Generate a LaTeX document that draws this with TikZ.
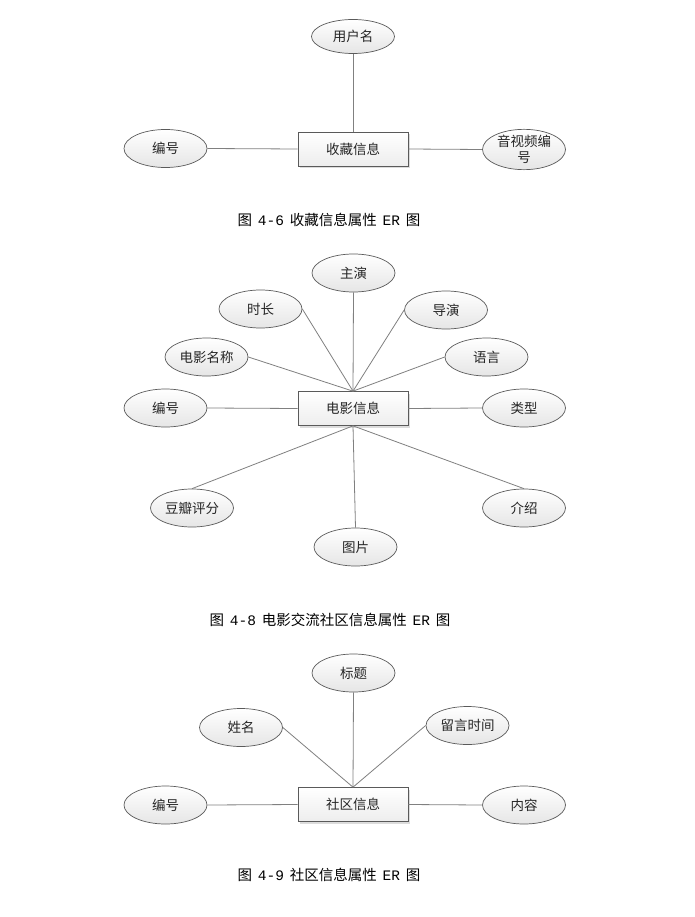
\documentclass[tikz,border=0pt]{standalone}
\usepackage{fontspec}
\newfontfamily\cjk{Noto Sans CJK SC}
\newfontfamily\capmono{Liberation Mono}
\usetikzlibrary{shapes.geometric,shadows}

\definecolor{linegray}{HTML}{808080}
\definecolor{edgegray}{HTML}{5A5A5A}
\definecolor{txtgray}{HTML}{262626}

\newcommand{\capnum}[1]{\hspace{0.4em}{\capmono #1}\hspace{0.4em}}

\tikzset{
  attr/.style={ellipse, draw=edgegray, line width=0.7pt, top color=white, bottom color=gray!20, minimum width=83pt, minimum height=38pt, inner sep=0pt, align=center, text=txtgray, font=\cjk\fontsize{13.5}{16}\selectfont},
  entity/.style={rectangle, draw=edgegray, line width=0.7pt, top color=white, bottom color=gray!14, minimum width=110pt, minimum height=34pt, inner sep=0pt, text=txtgray, font=\cjk\fontsize{13.5}{16}\selectfont, drop shadow={shadow xshift=2pt, shadow yshift=-2pt, fill=gray!45, opacity=.6}},
  link/.style={draw=linegray, line width=0.8pt},
  caption/.style={text=black, font=\cjk\fontsize{14.5}{16}\selectfont}
}

\begin{document}
\begin{tikzpicture}[x=1pt, y=-1pt]
\useasboundingbox[fill=white] (0,0) rectangle (695,917);

% 4-6
\node[attr, minimum height=34pt] (fuser) at (353,36.5) {用户名};
\node[entity] (fav) at (353,149) {收藏信息};
\node[attr] (fid) at (165.5,148.5) {编号};
\node[attr] (fmedia) at (524,149.5) {音视频编\\号};
\node[caption] (cap1) at (329,219.5) {图\capnum{4-6}收藏信息属性\capnum{ER}图};

\draw[link] (fuser.south) -- (fav.north);
\draw[link] (fid.east) -- (fav.west);
\draw[link] (fmedia.west) -- (fav.east);

% 4-8
\node[attr] (star) at (353.5,273) {主演};
\node[attr] (dur) at (260.5,309) {时长};
\node[attr] (dir) at (446,310) {导演};
\node[attr] (mname) at (206.5,357) {电影名称};
\node[attr] (lang) at (486.5,357) {语言};
\node[attr] (mid) at (165.5,408) {编号};
\node[entity] (mov) at (353,408.5) {电影信息};
\node[attr] (mtype) at (524,408) {类型};
\node[attr] (douban) at (192,508) {豆瓣评分};
\node[attr] (intro) at (524,508) {介绍};
\node[attr] (pic) at (355.5,547) {图片};
\node[caption] (cap2) at (330,620) {图\capnum{4-8}电影交流社区信息属性\capnum{ER}图};

\draw[link] (star.south) -- (mov.north);
\draw[link] (dur.east) -- (mov.north);
\draw[link] (dir.west) -- (mov.north);
\draw[link] (mname.east) -- (mov.north);
\draw[link] (lang.west) -- (mov.north);
\draw[link] (mid.east) -- (mov.west);
\draw[link] (mtype.west) -- (mov.east);
\draw[link] (douban.north) -- (mov.south);
\draw[link] (pic.north) -- (mov.south);
\draw[link] (intro.north) -- (mov.south);

% 4-9
\node[attr] (title) at (353.5,673) {标题};
\node[attr] (uname) at (241,727.5) {姓名};
\node[attr] (mtime) at (467.5,725.5) {留言时间};
\node[attr] (cid) at (165.5,805) {编号};
\node[entity] (comm) at (353,804.5) {社区信息};
\node[attr] (content) at (524,805) {内容};
\node[caption] (cap3) at (329,874.5) {图\capnum{4-9}社区信息属性\capnum{ER}图};

\draw[link] (title.south) -- (comm.north);
\draw[link] (uname.east) -- (comm.north);
\draw[link] (mtime.west) -- (comm.north);
\draw[link] (cid.east) -- (comm.west);
\draw[link] (content.west) -- (comm.east);

\end{tikzpicture}
\end{document}
